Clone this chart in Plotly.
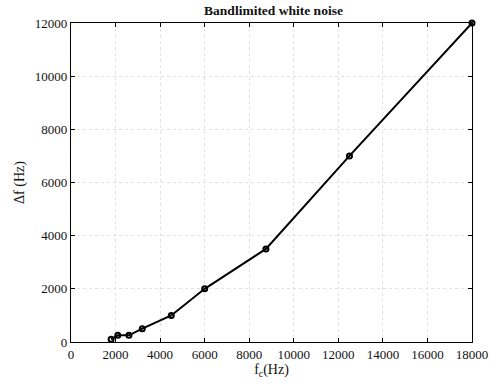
import plotly.graph_objects as go

# Centre frequency and bandwidth of the band-limited noise
fc_hz = [1800, 2100, 2600, 3200, 4500, 6000, 8750, 12500, 18000]
df_hz = [100, 250, 250, 500, 1000, 2000, 3500, 7000, 12000]

x_ticks = [0, 2000, 4000, 6000, 8000, 10000, 12000, 14000, 16000, 18000]
y_ticks = [0, 2000, 4000, 6000, 8000, 10000, 12000]

serif = "Liberation Serif, Times New Roman, serif"

fig = go.Figure(
    go.Scatter(
        x=fc_hz, y=df_hz, mode="lines+markers",
        line=dict(color="black", width=2),
        marker=dict(symbol="circle-open", size=5, color="black",
                    line=dict(width=2, color="black")),
        cliponaxis=False,
    )
)

axis_common = dict(
    showline=True, linecolor="black", linewidth=1.2, mirror="ticks",
    ticks="inside", ticklen=4, tickcolor="black",
    showgrid=True, gridcolor="#e2e2e2", griddash="dot", gridwidth=1,
    zeroline=False,
    tickfont=dict(family=serif, size=13, color="#111"),
)

fig.update_layout(
    width=500, height=387,
    margin=dict(l=71, r=23, t=23, b=43),
    paper_bgcolor="white", plot_bgcolor="white",
    showlegend=False,
    title=dict(text="<b>Bandlimited white noise</b>", x=0.547, xanchor="center",
               y=0.973, yanchor="middle",
               font=dict(family=serif, size=13.5, color="#111")),
    xaxis=dict(range=[0, 18000], tickvals=x_ticks,
               ticktext=[str(v) for v in x_ticks],
               title=dict(text="f<sub>c</sub>(Hz)", standoff=3,
                          font=dict(family=serif, size=14, color="#111")),
               **axis_common),
    yaxis=dict(range=[0, 12000], tickvals=y_ticks,
               ticktext=[str(v) for v in y_ticks],
               title=dict(text="Δf (Hz)", standoff=6,
                          font=dict(family=serif, size=14, color="#111")),
               **axis_common),
)

fig.write_html("out.html")
